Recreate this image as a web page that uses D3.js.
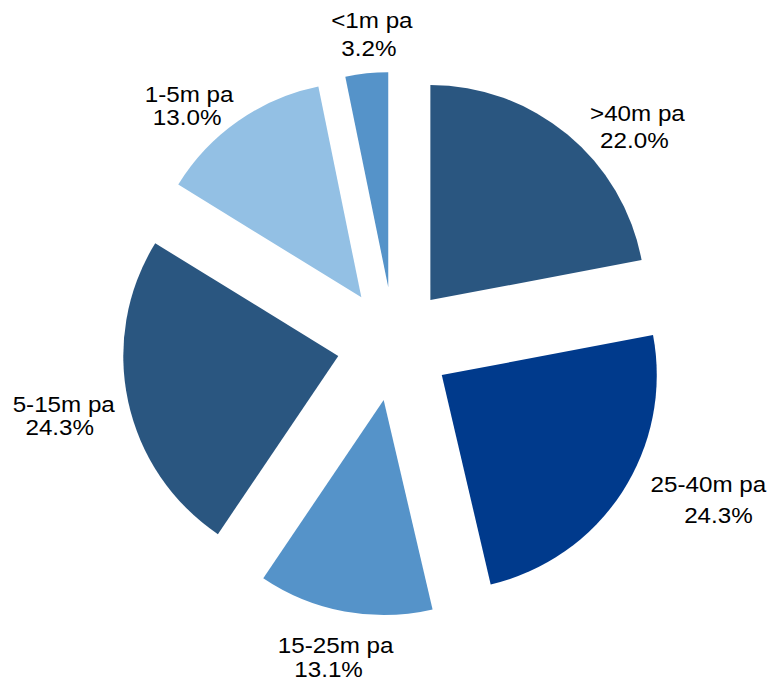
<!DOCTYPE html>
<html>
<head>
<meta charset="utf-8">
<script src="https://cdn.jsdelivr.net/npm/d3@7"></script>
<style>
  html, body { margin: 0; padding: 0; background: #fff; }
  svg { display: block; }
  text { font-family: Arial, "Liberation Sans", sans-serif; font-size: 22px; fill: #000; }
</style>
</head>
<body>
<svg id="chart" width="775" height="684"></svg>
<script>
// Revenue bands, clockwise from 12 o'clock
const categories = [">40m pa", "25-40m pa", "15-25m pa", "5-15m pa", "1-5m pa", "<1m pa"];
const shares     = [22.0, 24.3, 13.1, 24.3, 13.0, 3.2];
const colours    = ["#2a5680", "#003a8c", "#5593c9", "#2a5680", "#93c0e4", "#5593c9"];

const width = 775, height = 684;
const cx = 394, cy = 344;      // pie centre
const radius = 215;            // slice radius
const explode = 57;            // outward pull of every slice
const labelRadius = 300;       // distance of label anchor from the centre
const textStretch = 1.1;       // horizontal widening of label glyphs

// label layout: offset of the block from its radial anchor, line spacing,
// and horizontal shift of the percentage line
const labelLayout = [
  { dx: 52,  dy: 22,  gap: 27, dx2: -3 },
  { dx: 63,  dy: 0,   gap: 31, dx2: 10 },
  { dx: -4,  dy: 26,  gap: 24, dx2: -7 },
  { dx: -37, dy: 16,  gap: 23, dx2: -4 },
  { dx: -33, dy: 15,  gap: 23, dx2: -2 },
  { dx: 8,   dy: -4,  gap: 28, dx2: -3 }
];

const svg = d3.select("#chart");
const g = svg.append("g").attr("transform", `translate(${cx},${cy})`);

const data = categories.map((c, i) => ({ category: c, value: shares[i], colour: colours[i] }));

const pie = d3.pie().sort(null).value(d => d.value);
const arc = d3.arc().innerRadius(0).outerRadius(radius);
const arcs = pie(data);

const mid = a => (a.startAngle + a.endAngle) / 2;

g.selectAll("path.slice")
  .data(arcs)
  .join("path")
  .attr("class", "slice")
  .attr("d", arc)
  .attr("fill", d => d.data.colour)
  .attr("transform", d => {
    const m = mid(d);
    return `translate(${Math.sin(m) * explode},${-Math.cos(m) * explode})`;
  });

// Labels: category name above its share, placed out along the slice direction
const fmt = d3.format(".1f");
g.selectAll("g.label")
  .data(arcs)
  .join("g")
  .attr("class", "label")
  .each(function (d, i) {
    const m = mid(d);
    const L = labelLayout[i];
    const ax = Math.sin(m) * labelRadius + L.dx;
    const ay = -Math.cos(m) * labelRadius + L.dy;
    const sel = d3.select(this);
    sel.append("text")
      .attr("text-anchor", "middle")
      .attr("transform", `translate(${ax},${ay - L.gap / 2}) scale(${textStretch},1)`)
      .text(d.data.category);
    sel.append("text")
      .attr("text-anchor", "middle")
      .attr("transform", `translate(${ax + L.dx2},${ay + L.gap / 2}) scale(${textStretch},1)`)
      .text(fmt(d.data.value) + "%");
  });
</script>
</body>
</html>
